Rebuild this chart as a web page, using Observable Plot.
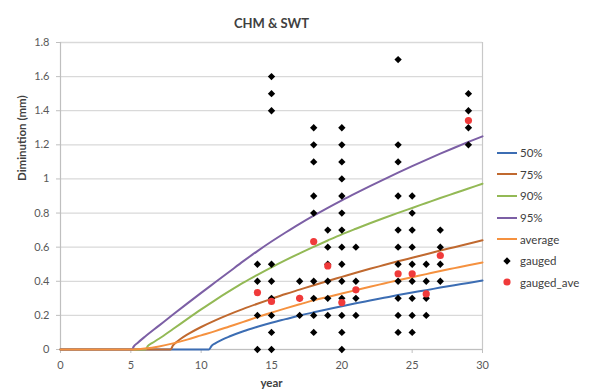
<!DOCTYPE html>
<html><head><meta charset="utf-8">
<script src="https://cdn.jsdelivr.net/npm/d3@7"></script>
<script src="https://cdn.jsdelivr.net/npm/@observablehq/plot@0.6"></script>
<style>
body{margin:0;background:#fff;font-family:Lato,"Open Sans",sans-serif;}
#wrap{position:relative;width:598px;height:392px;overflow:hidden;}
#wrap svg.plot{position:absolute;left:0;top:0;}
#legend{position:absolute;left:496px;top:142px;font-size:11.5px;color:#404040;font-family:Lato,sans-serif;}
.item{height:21.6px;display:flex;align-items:center;}
.item svg{margin-right:2px;}
</style></head><body><div id="wrap"><div id="legend"></div></div>
<script>
// ---- data ----
const title = "CHM & SWT";
const xLabel = "year";
const yLabel = "Diminution (mm)";
const xTicks = [0, 5, 10, 15, 20, 25, 30];
const yTicks = [0, 0.2, 0.4, 0.6, 0.8, 1, 1.2, 1.4, 1.6, 1.8];

const seriesNames = ["50%", "75%", "90%", "95%", "average"];
const seriesColors = ["#3c6db3", "#c0692f", "#93b955", "#7c5fa5", "#f5913f"];

const years50 = [0, 10.54, 10.75, 11, 11.5, 12, 13, 14, 15, 16, 17, 18, 19, 20, 21, 22, 23, 24, 25, 26, 27, 28, 29, 30];
const vals50  = [0, 0, 0.022, 0.036, 0.058, 0.076, 0.107, 0.133, 0.157, 0.178, 0.199, 0.218, 0.236, 0.254, 0.271, 0.287, 0.303, 0.319, 0.334, 0.348, 0.363, 0.377, 0.390, 0.404];

const years75 = [0, 7.82, 8, 8.25, 8.5, 9, 10, 11, 12, 13, 14, 15, 16, 17, 18, 19, 20, 21, 22, 23, 24, 25, 26, 27, 28, 29, 30];
const vals75  = [0, 0, 0.024, 0.044, 0.060, 0.087, 0.132, 0.171, 0.206, 0.238, 0.268, 0.297, 0.325, 0.351, 0.377, 0.402, 0.426, 0.450, 0.473, 0.495, 0.517, 0.538, 0.559, 0.580, 0.600, 0.620, 0.640];

const years90 = [0, 6.04, 6.2, 6.5, 7, 8, 9, 10, 11, 12, 13, 14, 15, 16, 17, 18, 19, 20, 21, 22, 23, 24, 25, 26, 27, 28, 29, 30];
const vals90  = [0, 0, 0.020, 0.037, 0.063, 0.120, 0.178, 0.235, 0.290, 0.342, 0.392, 0.438, 0.482, 0.524, 0.564, 0.602, 0.639, 0.675, 0.708, 0.740, 0.771, 0.801, 0.830, 0.859, 0.888, 0.916, 0.944, 0.972];

const years95 = [0, 5.09, 5.2, 5.5, 6, 7, 8, 9, 10, 11, 12, 13, 14, 15, 16, 17, 18, 19, 20, 21, 22, 23, 24, 25, 26, 27, 28, 29, 30];
const vals95  = [0, 0, 0.017, 0.040, 0.075, 0.140, 0.205, 0.269, 0.332, 0.394, 0.456, 0.518, 0.577, 0.633, 0.686, 0.737, 0.785, 0.831, 0.875, 0.917, 0.958, 0.998, 1.037, 1.075, 1.112, 1.148, 1.183, 1.217, 1.250];

const yearsAvg = [0, 5, 6, 7, 8, 9, 10, 11, 12, 13, 14, 15, 16, 17, 18, 19, 20, 21, 22, 23, 24, 25, 26, 27, 28, 29, 30];
const valsAvg  = [0, 0, 0.006, 0.018, 0.036, 0.058, 0.083, 0.108, 0.135, 0.162, 0.190, 0.216, 0.241, 0.265, 0.288, 0.308, 0.328, 0.348, 0.368, 0.387, 0.406, 0.424, 0.442, 0.460, 0.477, 0.494, 0.510];

const gaugedYears = [14, 15, 17, 18, 19, 20, 21, 24, 25, 26, 27, 29];
const gaugedValues = [
  [0.5, 0.4, 0.2, 0],
  [1.6, 1.5, 1.4, 0.5, 0.4, 0.3, 0.2, 0.1, 0],
  [0.4, 0.3, 0.2],
  [1.3, 1.2, 1.1, 0.9, 0.8, 0.4, 0.3, 0.2, 0.1],
  [0.7, 0.6, 0.5, 0.4, 0.3, 0.2],
  [1.3, 1.2, 1.1, 1.0, 0.9, 0.8, 0.7, 0.6, 0.5, 0.4, 0.3, 0.2, 0.1, 0],
  [0.6, 0.4, 0.3, 0.2],
  [1.7, 1.2, 1.1, 0.9, 0.7, 0.6, 0.5, 0.4, 0.3, 0.2, 0.1],
  [0.9, 0.8, 0.7, 0.6, 0.5, 0.4, 0.3, 0.2, 0.1],
  [0.5, 0.4, 0.3, 0.2],
  [0.7, 0.6, 0.5, 0.4],
  [1.5, 1.4, 1.3, 1.2]
];
const gaugedAve = [0.334, 0.282, 0.300, 0.633, 0.490, 0.275, 0.350, 0.444, 0.444, 0.326, 0.551, 1.342];

// ---- build tables ----
const seriesYears = [years50, years75, years90, years95, yearsAvg];
const seriesVals = [vals50, vals75, vals90, vals95, valsAvg];
const lineData = seriesNames.flatMap((name, i) =>
  seriesYears[i].map((t, j) => ({series: name, year: t, value: seriesVals[i][j]})));
const gauged = gaugedYears.flatMap((t, i) => gaugedValues[i].map(v => ({year: t, value: v})));
const gaugedAveData = gaugedYears.map((t, i) => ({year: t, value: gaugedAve[i]}));

const font = "Lato, 'Open Sans', sans-serif";
const chart = Plot.plot({
  width: 598, height: 392,
  marginLeft: 60, marginRight: 116, marginTop: 42, marginBottom: 43,
  style: {fontFamily: font, fontSize: "11px", color: "#595959", background: "white", overflow: "visible"},
  x: {domain: [0, 30]},
  y: {domain: [0, 1.8]},
  color: {domain: seriesNames, range: seriesColors},
  marks: [
    Plot.gridY(yTicks, {stroke: "#d9d9d9", strokeOpacity: 1, strokeWidth: 1.3}),
    Plot.ruleX([30], {stroke: "#c8c8c8", strokeWidth: 1.2}),
    Plot.axisY(yTicks, {tickSize: 4, tickPadding: 7, stroke: "#bfbfbf", label: null,
      tickFormat: d => String(+d.toFixed(1))}),
    Plot.axisX(xTicks, {tickSize: 4, tickPadding: 8, stroke: "#bfbfbf", label: null,
      tickFormat: d => String(d)}),
    Plot.ruleX([0], {stroke: "#bfbfbf", strokeWidth: 1.2}),
    Plot.ruleY([0], {stroke: "#bfbfbf", strokeWidth: 1.2}),
    Plot.line(lineData, {x: "year", y: "value", z: "series", stroke: "series",
      strokeWidth: 2, curve: "monotone-x"}),
    Plot.dot(gauged, {x: "year", y: "value", symbol: "diamond2", r: 3.3, fill: "black", stroke: "none"}),
    Plot.dot(gaugedAveData, {x: "year", y: "value", r: 3.6, fill: "#f03a3a", stroke: "none"}),
    Plot.text([title], {frameAnchor: "top", dy: -24, fontSize: 13, fontWeight: "bold", fill: "#404040"}),
    Plot.text([xLabel], {frameAnchor: "bottom", dy: 37, fontSize: 11.5, fontWeight: "bold", fill: "#404040"}),
    Plot.text([yLabel], {frameAnchor: "left", dx: -38, dy: -15, rotate: -90, fontSize: 11.5, fontWeight: "bold", fill: "#404040"})
  ]
});
chart.classList.add("plot");
document.getElementById("wrap").prepend(chart);

// ---- legend ----
const legend = d3.select("#legend");
seriesNames.forEach((name, i) => {
  const item = legend.append("div").attr("class", "item");
  const s = item.append("svg").attr("width", 22).attr("height", 10);
  s.append("line").attr("x1", 1).attr("x2", 21).attr("y1", 5).attr("y2", 5)
    .attr("stroke", seriesColors[i]).attr("stroke-width", 2);
  item.append("span").text(name);
});
{
  const item = legend.append("div").attr("class", "item");
  const s = item.append("svg").attr("width", 22).attr("height", 10);
  s.append("path").attr("transform", "translate(11,5)")
    .attr("d", d3.symbol(d3.symbolDiamond2, Math.PI * 3.3 * 3.3)()).attr("fill", "black");
  item.append("span").text("gauged");
}
{
  const item = legend.append("div").attr("class", "item");
  const s = item.append("svg").attr("width", 22).attr("height", 10);
  s.append("circle").attr("cx", 11).attr("cy", 5).attr("r", 3.6).attr("fill", "#f03a3a");
  item.append("span").text("gauged_ave");
}
</script></body></html>
